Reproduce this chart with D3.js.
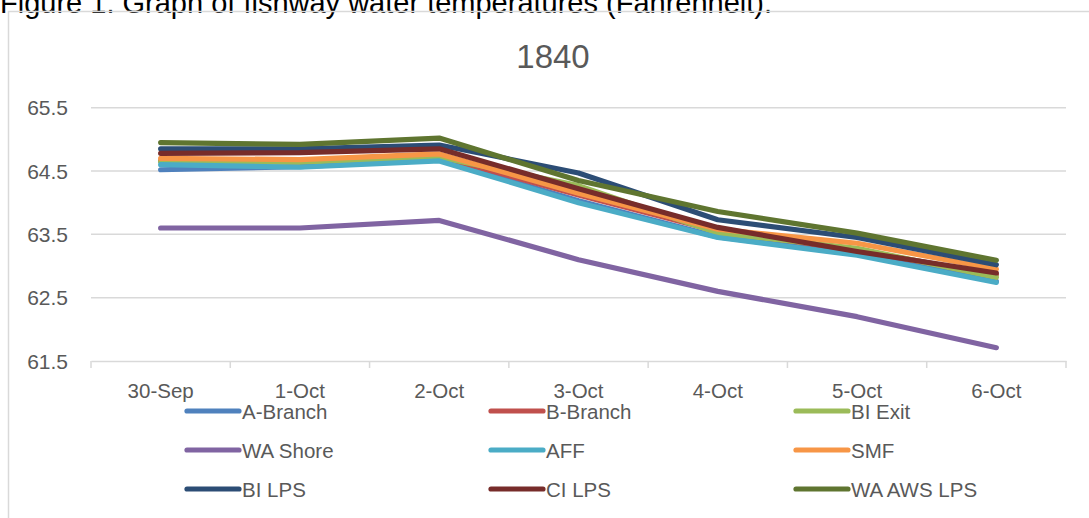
<!DOCTYPE html>
<html>
<head>
<meta charset="utf-8">
<script src="https://cdn.jsdelivr.net/npm/d3@7"></script>
<style>
  html, body { margin: 0; padding: 0; background: #fff; overflow: hidden; }
  svg { display: block; font-family: "Liberation Sans", Arial, sans-serif; }
</style>
</head>
<body>
<svg id="chart" width="1089" height="518"></svg>
<script>
const categories = ["30-Sep", "1-Oct", "2-Oct", "3-Oct", "4-Oct", "5-Oct", "6-Oct"];
const seriesNames = ["A-Branch", "B-Branch", "BI Exit", "WA Shore", "AFF", "SMF", "BI LPS", "CI LPS", "WA AWS LPS"];
const seriesColors = ["#4F81BD", "#C0504D", "#9BBB59", "#8064A2", "#4BACC6", "#F79646", "#2C4D75", "#772C2A", "#5F7530"];
const aBranch  = [64.52, 64.57, 64.68, 64.03, 63.46, 63.19, 62.76];
const bBranch  = [64.66, 64.65, 64.73, 64.12, 63.55, 63.25, 62.86];
const biExit   = [64.65, 64.64, 64.72, 64.27, 63.52, 63.28, 62.82];
const waShore  = [63.60, 63.60, 63.72, 63.10, 62.60, 62.20, 61.71];
const aff      = [64.60, 64.56, 64.66, 64.00, 63.45, 63.17, 62.74];
const smf      = [64.70, 64.68, 64.77, 64.15, 63.58, 63.36, 62.95];
const biLps    = [64.85, 64.85, 64.91, 64.47, 63.73, 63.45, 63.02];
const ciLps    = [64.78, 64.79, 64.85, 64.22, 63.61, 63.23, 62.89];
const waAwsLps = [64.95, 64.92, 65.02, 64.35, 63.86, 63.52, 63.09];
const yTicks = [61.5, 62.5, 63.5, 64.5, 65.5];
const chartTitle = "1840";
const figureCaption = "Figure 1. Graph of fishway water temperatures (Fahrenheit).";

const seriesValues = [aBranch, bBranch, biExit, waShore, aff, smf, biLps, ciLps, waAwsLps];

const svg = d3.select("#chart");
const textColor = "#595959";
const gridColor = "#d9d9d9";

// caption (partially cut at top, as in the reference)
svg.append("text").attr("x", 0).attr("y", 13)
  .attr("font-size", 29).attr("fill", "#000").text(figureCaption);

// chart border
svg.append("rect").attr("x", 8.5).attr("y", 11.5).attr("width", 1200).attr("height", 600)
  .attr("fill", "none").attr("stroke", gridColor).attr("stroke-width", 1.5);

// title
svg.append("text").attr("x", 553).attr("y", 68).attr("text-anchor", "middle")
  .attr("font-size", 33).attr("fill", textColor).text(chartTitle);

const x = d3.scaleBand().domain(categories).range([91, 1066]);
const y = d3.scaleLinear().domain([61.5, 65.5]).range([361, 107.7]);

// gridlines
svg.append("g").selectAll("line").data(yTicks.filter(t => t !== 61.5)).join("line")
  .attr("x1", 91).attr("x2", 1066)
  .attr("y1", d => y(d)).attr("y2", d => y(d))
  .attr("stroke", gridColor).attr("stroke-width", 1.5);

// y axis labels
svg.append("g").selectAll("text").data(yTicks).join("text")
  .attr("x", 68).attr("y", d => y(d) + 7.5).attr("text-anchor", "end")
  .attr("font-size", 21).attr("fill", textColor).text(d => d.toFixed(1));

// x axis
const xAxis = d3.axisBottom(x).tickSize(0).tickFormat("");
const gx = svg.append("g").attr("transform", `translate(0,${y(61.5)})`).call(xAxis);
gx.select(".domain").attr("stroke", gridColor).attr("stroke-width", 1.5);
const boundaries = categories.map(c => x(c)).concat([x.range()[1]]);
gx.selectAll(".tickb").data(boundaries).join("line").attr("class", "tickb")
  .attr("x1", d => d).attr("x2", d => d).attr("y1", 0).attr("y2", 7)
  .attr("stroke", gridColor).attr("stroke-width", 1.5);
svg.append("g").selectAll("text").data(categories).join("text")
  .attr("x", d => x(d) + x.bandwidth() / 2).attr("y", 398).attr("text-anchor", "middle")
  .attr("font-size", 20.5).attr("fill", textColor).text(d => d);

// lines
const line = d3.line()
  .x((d, i) => x(categories[i]) + x.bandwidth() / 2)
  .y(d => y(d));
svg.append("g").selectAll("path").data(seriesValues).join("path")
  .attr("d", d => line(d))
  .attr("fill", "none")
  .attr("stroke", (d, i) => seriesColors[i])
  .attr("stroke-width", 5.2)
  .attr("stroke-linecap", "round")
  .attr("stroke-linejoin", "round");

// legend
const colX = [185, 489, 794];
const rowY = [411, 450, 489];
const lg = svg.append("g").selectAll("g").data(seriesNames).join("g")
  .attr("transform", (d, i) => `translate(${colX[i % 3]},${rowY[Math.floor(i / 3)]})`);
lg.append("line").attr("x1", 2).attr("x2", 54).attr("y1", 0).attr("y2", 0)
  .attr("stroke", (d, i) => seriesColors[i]).attr("stroke-width", 5.2).attr("stroke-linecap", "round");
lg.append("text").attr("x", 57).attr("y", 8)
  .attr("font-size", 20.5).attr("fill", textColor).text(d => d);
</script>
</body>
</html>
